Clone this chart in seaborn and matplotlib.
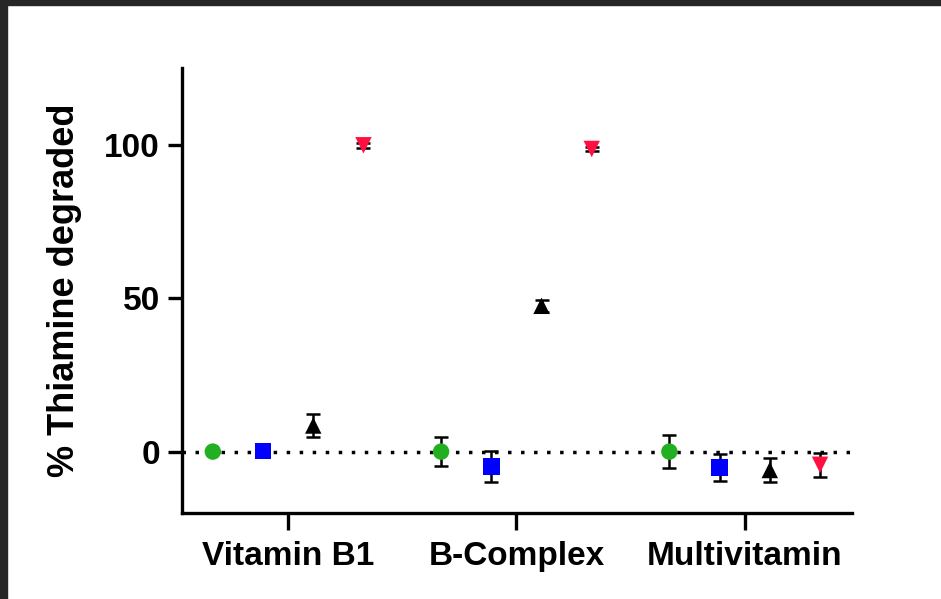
import numpy as np
import pandas as pd
import matplotlib
matplotlib.use("Agg")
import matplotlib.pyplot as plt
from matplotlib.patches import Rectangle
import seaborn as sns

# Data
products = ["Vitamin B1", "B-Complex", "Multivitamin"]
series = ["S1", "S2", "S3", "S4"]
s1_mean = [0.0, 0.0, 0.0]
s1_err = [0.0, 4.6, 5.3]
s2_mean = [0.2, -4.9, -5.2]
s2_err = [0.0, 5.0, 4.4]
s3_mean = [8.5, 47.5, -6.0]
s3_err = [3.7, 2.0, 4.0]
s4_mean = [99.8, 98.6, -4.3]
s4_err = [0.8, 0.8, 4.0]

colors = ["#22B022", "#0000FF", "#000000", "#FF1040"]
markers = ["o", "s", "^", "v"]
dodge = [-0.33, -0.11, 0.11, 0.33]

sns.set_style("white")
plt.rcParams["font.family"] = ["Liberation Sans", "DejaVu Sans"]
plt.rcParams["font.weight"] = "bold"
plt.rcParams["text.color"] = "black"
plt.rcParams["axes.labelcolor"] = "black"
plt.rcParams["xtick.color"] = "black"
plt.rcParams["ytick.color"] = "black"

rows = []
for s, m, e in zip(series, [s1_mean, s2_mean, s3_mean, s4_mean],
                   [s1_err, s2_err, s3_err, s4_err]):
    for i, p in enumerate(products):
        rows.append({"product": p, "idx": i, "series": s, "mean": m[i], "err": e[i]})
df = pd.DataFrame(rows)
df["x"] = df["idx"] + df["series"].map(dict(zip(series, dodge)))

fig = plt.figure(figsize=(9.41, 5.99), dpi=100)
ax = fig.add_axes([0.1934, 0.1436, 0.712, 0.743])

ax.axhline(0, color="black", lw=2.5, linestyle=(0, (1, 2.75)), zorder=1)

for s, c in zip(series, colors):
    d = df[df["series"] == s]
    ax.errorbar(d["x"], d["mean"], yerr=d["err"], fmt="none", ecolor="black",
                elinewidth=1.8, capsize=5, capthick=1.8, zorder=2)

sns.scatterplot(data=df, x="x", y="mean", hue="series", style="series",
                palette=colors, markers=markers, s=140, edgecolor="none",
                legend=False, ax=ax, zorder=3)

ax.set_xlim(-0.465, 2.47)
ax.set_ylim(-20, 125)
ax.set_xticks(range(len(products)))
ax.set_xticklabels(products, fontsize=24, fontweight="bold", color="black")
ax.set_yticks([0, 50, 100])
ax.set_yticklabels(["0", "50", "100"], fontsize=24, fontweight="bold", color="black")
ax.set_xlabel("")
ax.set_ylabel("% Thiamine degraded", fontsize=26, fontweight="bold",
              color="black", labelpad=16)

for side in ["top", "right"]:
    ax.spines[side].set_visible(False)
for side in ["left", "bottom"]:
    ax.spines[side].set_linewidth(2.4)
    ax.spines[side].set_color("black")
ax.tick_params(axis="y", direction="out", length=10, width=2.4, left=True, pad=6)
ax.tick_params(axis="x", direction="out", length=12, width=2.4, bottom=True, pad=8)

# dark screenshot frame
fig.add_artist(Rectangle((0, 1 - 5 / 599), 1, 5 / 599, transform=fig.transFigure,
                         color="#262626", zorder=10))
fig.add_artist(Rectangle((0, 0), 7 / 941, 1, transform=fig.transFigure,
                         color="#262626", zorder=10))

fig.savefig("out.png", dpi=100)
